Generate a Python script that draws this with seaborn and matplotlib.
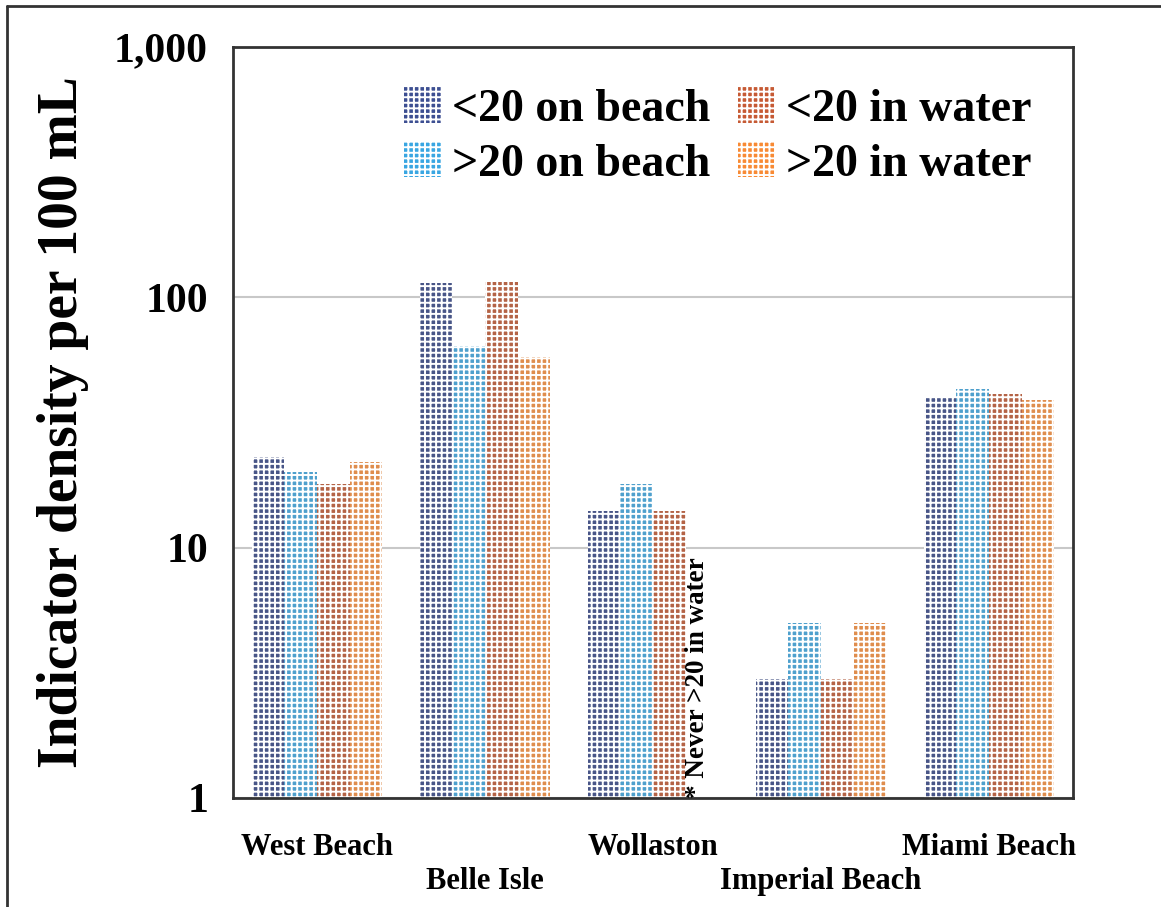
import numpy as np
import pandas as pd
import matplotlib
matplotlib.use("Agg")
import matplotlib.pyplot as plt
from matplotlib.patches import Patch
from matplotlib.lines import Line2D
from matplotlib.ticker import FixedLocator, NullLocator
import seaborn as sns

# Data: indicator density per 100 mL by beach and bather group
beaches = ["West Beach", "Belle Isle", "Wollaston", "Imperial Beach", "Miami Beach"]
groups = ["<20 on beach", ">20 on beach", "<20 in water", ">20 in water"]
lt20_beach = [23, 114, 14, 3, 40]
gt20_beach = [20, 64, 18, 5, 43]
lt20_water = [18, 115, 14, 3, 41]
gt20_water = [22, 58, np.nan, 5, 39]
colors = ["#3d4f92", "#39a6e2", "#c65a34", "#f88a34"]
y_ticks = [1, 10, 100, 1000]
y_ticklabels = ["1", "10", "100", "1,000"]

series = [lt20_beach, gt20_beach, lt20_water, gt20_water]
df = pd.DataFrame({
    "beach": np.repeat([beaches], len(groups), axis=0).ravel(),
    "group": np.repeat(groups, len(beaches)),
    "value": np.concatenate(series),
})

sns.set_theme(style="white")
plt.rcParams["font.family"] = ["Liberation Serif", "DejaVu Serif"]
plt.rcParams["font.weight"] = "bold"
plt.rcParams["text.color"] = "black"
plt.rcParams["axes.labelcolor"] = "black"
plt.rcParams["xtick.color"] = "black"
plt.rcParams["ytick.color"] = "black"
plt.rcParams["hatch.linewidth"] = 1.4

fig = plt.figure(figsize=(11.61, 9.07), dpi=100)
ax = fig.add_axes([0.2007, 0.1202, 0.7235, 0.828])

sns.barplot(data=df, x="beach", y="value", hue="group", order=beaches,
            hue_order=groups, palette=colors, width=0.775, ax=ax,
            legend=False, errorbar=None, log_scale=(False, True))

hatch = "+++"
for p in ax.patches:
    p.set_hatch(hatch)
    p.set_edgecolor("white")
    p.set_linewidth(0)

ax.set_yscale("log")
ax.set_ylim(1, 1000)
ax.set_xlim(-0.5, 4.5)
ax.yaxis.set_major_locator(FixedLocator(y_ticks))
ax.yaxis.set_minor_locator(NullLocator())
ax.set_yticklabels(y_ticklabels, fontsize=30, fontweight="bold")
ax.grid(axis="y", which="major", color="#c8c8c8", lw=1.5)
ax.set_axisbelow(True)
ax.tick_params(axis="y", length=0, pad=18)

# Staggered beach names: even positions on the upper row, odd on the lower
even = list(range(0, len(beaches), 2))
odd = list(range(1, len(beaches), 2))
ax.set_xticks(even)
ax.set_xticklabels([beaches[i] for i in even], fontsize=22, fontweight="bold")
ax.set_xticks(odd, minor=True)
ax.set_xticklabels([beaches[i] for i in odd], minor=True, fontsize=22,
                   fontweight="bold")
ax.tick_params(axis="x", which="major", length=0, pad=25)
ax.tick_params(axis="x", which="minor", length=0, pad=50)
ax.set_xlabel("")
ax.set_ylabel("Indicator density per 100 mL", fontsize=40, fontweight="bold",
              labelpad=18)

for s in ax.spines.values():
    s.set_color("#333333")
    s.set_linewidth(2)
    s.set_visible(True)

ax.text(2.262, 1.0, "* Never >20 in water", rotation=90, ha="center",
        va="bottom", fontsize=19.5, fontweight="bold")

handles = [Patch(facecolor=c, edgecolor="white", linewidth=0, hatch=hatch)
           for c in colors]
ax.legend(handles, groups, ncol=2, loc="upper right",
          bbox_to_anchor=(1.0, 1.001), frameon=False,
          prop={"size": 33, "weight": "bold"},
          handlelength=0.8, handleheight=0.8, handletextpad=0.25,
          columnspacing=0.6, labelspacing=0.25)

# Border along the left and top edges of the figure
fig.add_artist(Line2D([0.006, 0.006], [0.0, 0.993], transform=fig.transFigure,
                      color="#333333", lw=2))
fig.add_artist(Line2D([0.006, 1.0], [0.993, 0.993], transform=fig.transFigure,
                      color="#333333", lw=2))

fig.savefig("out.png", dpi=100)
